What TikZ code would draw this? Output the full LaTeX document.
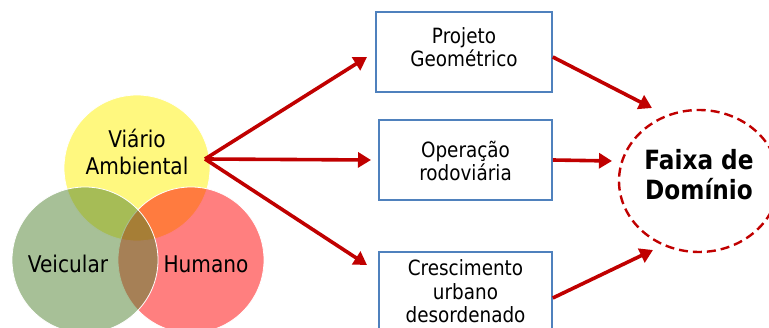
\documentclass[tikz,border=0pt]{standalone}
\usepackage{fontspec}
\setmainfont{DejaVu Sans}[FakeStretch=0.875]
\usetikzlibrary{arrows.meta,shapes.geometric}
\definecolor{arrred}{HTML}{C00000}
\definecolor{boxblue}{HTML}{4F81BD}
\definecolor{vgreen}{HTML}{4F812F}
\tikzset{
  venn/.style={circle, minimum size=146pt, inner sep=0pt, fill opacity=0.5, draw=white, line width=0.8pt},
  vtext/.style={font=\fontsize{23}{27}\selectfont, align=center, text=black},
  boxnode/.style={draw=boxblue, line width=1.6pt, fill=white, inner sep=0pt},
  btext/.style={font=\fontsize{21}{23.5}\selectfont, align=center, text=black},
  redarrow/.style={draw=arrred, line width=3.6pt, -{Triangle[length=13pt,width=15pt]}},
  fdell/.style={ellipse, draw=arrred, dash pattern=on 9pt off 5pt, line width=2.4pt, minimum width=160pt, minimum height=142pt, inner sep=0pt},
  fdtext/.style={font=\bfseries\fontsize{26.5}{30}\selectfont, align=center, text=black}
}
\begin{document}
\begin{tikzpicture}[x=1pt,y=-1pt]
\useasboundingbox (0,0) rectangle (769,328);
\clip (0,0) rectangle (769,328);
% Venn circles
\node[venn, fill=yellow] (via) at (137,168) {};
\node[venn, fill=red] (hum) at (191,260) {};
\node[venn, fill=vgreen] (vei) at (85,260) {};
\node[vtext] (viat) at (137,151.5) {Viário\\Ambiental};
\node[vtext, anchor=base] (veit) at (68,273) {Veicular};
\node[vtext, anchor=base] (humt) at (206,273) {Humano};
% boxes
\node[boxnode, minimum width=176pt, minimum height=80pt] (b1) at (464,52) {};
\node[boxnode, minimum width=173pt, minimum height=80pt] (b2) at (465.5,160) {};
\node[boxnode, minimum width=173pt, minimum height=84pt] (b3) at (465.5,294) {};
\node[btext] (b1t) at (464,47) {Projeto\\Geométrico};
\node[btext] (b2t) at (465.5,161) {Operação\\rodoviária};
\node[btext] (b3t) at (465.5,291.5) {Crescimento\\urbano\\desordenado};
% ellipse
\node[fdell] (fd) at (699,181) {};
\node[fdtext] (fdt) at (699,175) {Faixa de\\Domínio};
% arrows
\coordinate (src) at (205,159);
\coordinate (t1) at (367,57);
\coordinate (t2) at (371,160);
\coordinate (t3) at (367,265);
\coordinate (u1) at (652,108);
\coordinate (u2) at (612,161);
\coordinate (u3) at (653,250);
\draw[redarrow] (src) -- (t1);
\draw[redarrow] (src) -- (t2);
\draw[redarrow] (src) -- (t3);
\draw[redarrow] ([yshift=-5pt]b1.east) -- (u1);
\draw[redarrow] (b2.east) -- (u2);
\draw[redarrow] ([yshift=-4pt]b3.east) -- (u3);
\end{tikzpicture}
\end{document}
